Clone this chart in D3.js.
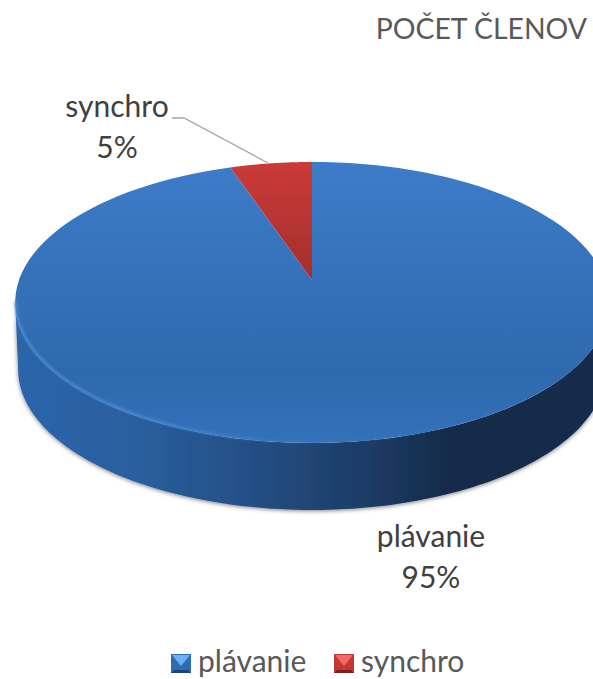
<!DOCTYPE html>
<html><head><meta charset="utf-8">
<script src="https://cdn.jsdelivr.net/npm/d3@7/dist/d3.min.js"></script>
<style>html,body{margin:0;padding:0;background:#fff;overflow:hidden}svg{display:block}text{font-family:Lato,"Open Sans",sans-serif}</style>
</head><body><svg id="c" width="593" height="679"></svg>
<script>
const categories = ["plávanie", "synchro"];
const values = [94.8, 5.2];
const labels = ["95%", "5%"];
const titleText = "POČET ČLENOV";
const legendColors = {plávanie:["#6cb0f0","#2f6cb3","#1d4677"], synchro:["#ee6a66","#c43735","#7a2220"]};

const svg=d3.select("#c");
const defs=svg.append("defs");

// perspective projection of the unit disc onto the page
const k=0.16;
const sx=d3.scaleLinear().domain([-1,1]).range([312-293,312+293]);
const sy=d3.scaleLinear().domain([-1,1]).range([280-136.9,280+136.9]);
const project=(a,r=1,dy=0,shrink=1)=>{
  const u=r*Math.sin(a), v=-r*Math.cos(a), d=1-k*v;
  return [312+(sx(u)-312)*shrink/d, sy(v/d)+dy];
};

function lin(id,stops,x1,y1,x2,y2){
  const g=defs.append("linearGradient").attr("id",id).attr("gradientUnits","userSpaceOnUse")
    .attr("x1",x1).attr("y1",y1).attr("x2",x2).attr("y2",y2);
  stops.forEach(s=>g.append("stop").attr("offset",s[0]).attr("stop-color",s[1]).attr("stop-opacity",s[2]===undefined?1:s[2]));
}
lin("top0",[[0,"#3d7cc9"],[0.75,"#2f69ad"],[1,"#3371b9"]],0,162,0,443);
lin("top1",[[0,"#cb3a38"],[1,"#a32f2c"]],0,162,0,280);
lin("side",[[0,"#2c65aa"],[0.2,"#2a5f9f"],[0.4,"#244f85"],[0.6,"#1c3c66"],[0.75,"#152a48"],[1,"#152b4b"]],15,0,600,0);
lin("rim",[[0,"#4a8ed8",0.85],[0.3,"#4a8ed8",0.7],[0.5,"#4a8ed8",0.15],[1,"#4a8ed8",0]],15,0,600,0);

const shadow=defs.append("filter").attr("id","sh").attr("x","-5%").attr("y","-5%").attr("width","110%").attr("height","115%");
shadow.append("feDropShadow").attr("dx",0).attr("dy",1).attr("stdDeviation",2).attr("flood-color","#000").attr("flood-opacity",0.5);
const blur=defs.append("filter").attr("id","bl").attr("x","-5%").attr("y","-5%").attr("width","110%").attr("height","110%");
blur.append("feGaussianBlur").attr("stdDeviation",0.9);

const line=d3.line();
const arcs=d3.pie().value(d=>d).sort(null)(values);
const arcPts=(a0,a1,dy=0,shrink=1)=>d3.range(0,121).map(i=>project(a0+(a1-a0)*i/120,1,dy,shrink));

// side wall: front half of the rim, between the two silhouette tangents
const a0=Math.PI*0.55,a1=Math.PI*1.45;
const wallPts=arcPts(a0,a1).concat(arcPts(a0,a1,67,0.99).reverse());
svg.append("path").attr("d",line(wallPts)+"Z").attr("fill","url(#side)").attr("filter","url(#sh)");

// top slices
svg.append("g").selectAll("path").data(arcs).join("path")
  .attr("d",d=>line([project(0,0)].concat(arcPts(d.startAngle,d.endAngle)))+"Z")
  .attr("fill",(d,i)=>`url(#top${i})`);

// soft rim highlight
svg.append("path").attr("d",line(arcPts(Math.PI*1.45,Math.PI*0.7).map(p=>[p[0]+0.5,p[1]-1])))
  .attr("fill","none").attr("stroke","url(#rim)").attr("stroke-width",2.5).attr("filter","url(#bl)");

// title
svg.append("text").attr("x",587).attr("y",39).attr("text-anchor","end")
  .attr("font-size",28.4).attr("fill","#595959").text(titleText);

// data labels
const labelPos=[[431,547],[117,117]];
categories.forEach((c,i)=>{
  const t=svg.append("text").attr("text-anchor","middle").attr("font-size",30).attr("fill","#404040");
  t.append("tspan").attr("x",labelPos[i][0]).attr("y",labelPos[i][1]).text(c);
  t.append("tspan").attr("x",labelPos[i][0]).attr("y",labelPos[i][1]+41).text(labels[i]);
});
// leader line
svg.append("path").attr("d",line([[172,118],[184,118],[268,163]])).attr("fill","none").attr("stroke","#a6a6a6").attr("stroke-width",1.3);

// legend
const legX=[171,334], legTextX=[198,361];
const g=svg.append("g");
categories.forEach((c,i)=>{
  const x=legX[i],y=654,s=20,h=19;
  const col=legendColors[c];
  g.append("rect").attr("x",x).attr("y",y).attr("width",s).attr("height",h).attr("fill",col[1]);
  g.append("path").attr("d",line([[x+1,y+1],[x+s-1,y+1],[x+s/2,y+12]])+"Z").attr("fill",col[0]);
  g.append("path").attr("d",line([[x,y+h],[x+s,y+h],[x+s-3,y+h-3],[x+3,y+h-3]])+"Z").attr("fill",col[2]);
  g.append("text").attr("x",legTextX[i]).attr("y",672).attr("font-size",30).attr("fill","#595959").text(c);
});
</script></body></html>
